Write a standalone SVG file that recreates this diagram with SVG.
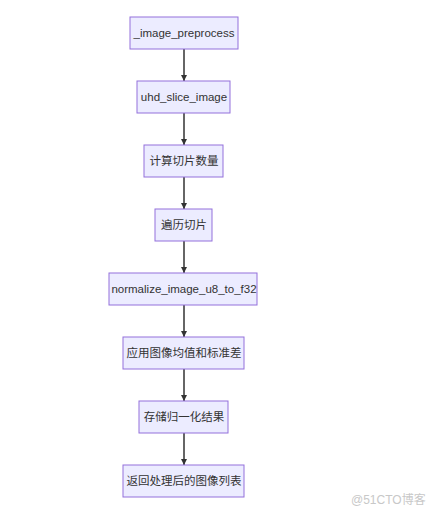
<svg xmlns="http://www.w3.org/2000/svg" width="447" height="519" viewBox="0 0 447 519">
<defs>
<style>
.n rect{fill:#ECECFF;stroke:#9370DB;stroke-width:1}
.n text{font-family:"Liberation Sans","Noto Sans CJK SC",sans-serif;font-size:11.5px;fill:#333;text-anchor:middle;dominant-baseline:central}
.e line{stroke:#333;stroke-width:1.5;marker-end:url(#ah)}
.wm{font-family:"Liberation Sans","Noto Sans CJK SC",sans-serif;font-size:12px;fill:#c8c8c8}
</style>
<marker id="ah" viewBox="0 0 10 10" refX="10" refY="5" markerWidth="6" markerHeight="6" markerUnits="userSpaceOnUse" orient="auto">
<path d="M0,0 L10,5 L0,10 z" fill="#333"/>
</marker>
</defs>
<rect width="447" height="519" fill="#fff"/>
<g id="edges" class="e">
<line x1="184" y1="49" x2="184" y2="81"/>
<line x1="184" y1="113" x2="184" y2="145"/>
<line x1="184" y1="177" x2="184" y2="209"/>
<line x1="184" y1="241" x2="184" y2="273"/>
<line x1="184" y1="305" x2="184" y2="337"/>
<line x1="184" y1="369" x2="184" y2="401"/>
<line x1="184" y1="433" x2="184" y2="465"/>
</g>
<g id="n1" class="n"><rect x="130" y="17" width="108" height="32"/><text x="184" y="33">_image_preprocess</text></g>
<g id="n2" class="n"><rect x="137" y="81" width="93" height="32"/><text x="184" y="97">uhd_slice_image</text></g>
<g id="n3" class="n"><rect x="144" y="145" width="79" height="32"/><text x="184" y="161">计算切片数量</text></g>
<g id="n4" class="n"><rect x="155" y="209" width="57" height="32"/><text x="184" y="225">遍历切片</text></g>
<g id="n5" class="n"><rect x="109" y="273" width="148" height="32"/><text x="184" y="289">normalize_image_u8_to_f32</text></g>
<g id="n6" class="n"><rect x="123" y="337" width="121" height="32"/><text x="184" y="353">应用图像均值和标准差</text></g>
<g id="n7" class="n"><rect x="139" y="401" width="89" height="32"/><text x="184" y="417">存储归一化结果</text></g>
<g id="n8" class="n"><rect x="123" y="465" width="121" height="32"/><text x="184" y="481">返回处理后的图像列表</text></g>
<text class="wm" x="351" y="504">@51CTO博客</text>
</svg>
